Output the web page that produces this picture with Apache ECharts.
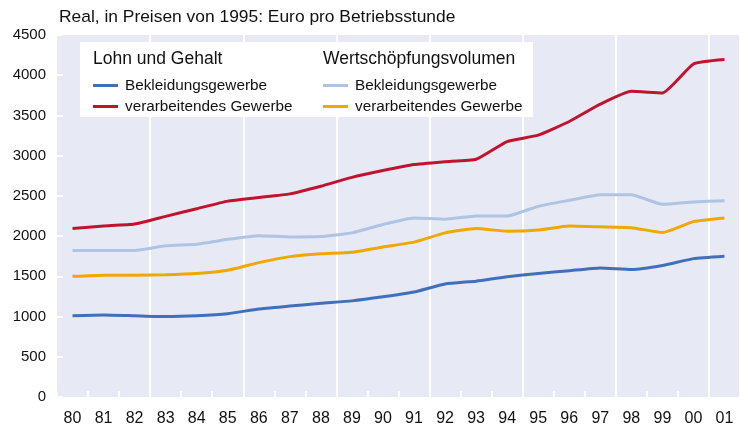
<!DOCTYPE html>
<html><head><meta charset="utf-8">
<script src="https://cdn.jsdelivr.net/npm/echarts@6/dist/echarts.min.js"></script>
<style>html,body{margin:0;padding:0;background:#fff}#c{width:740px;height:428px}</style>
</head><body><div id="c"></div>
<script>
const categories = ['80','81','82','83','84','85','86','87','88','89','90','91','92','93','94','95','96','97','98','99','00','01'];
const lohnBekleidung = [1010,1020,1010,1000,1010,1035,1095,1130,1165,1195,1245,1305,1405,1440,1495,1535,1570,1605,1585,1635,1720,1750];
const lohnVerarbeitend = [2095,2125,2150,2245,2340,2435,2480,2525,2620,2730,2815,2890,2925,2955,3175,3255,3425,3640,3800,3780,4140,4195];
const wertBekleidung = [1820,1820,1822,1880,1900,1960,2005,1990,1995,2040,2145,2225,2210,2250,2250,2370,2445,2515,2515,2395,2425,2440];
const wertVerarbeitend = [1500,1515,1515,1520,1535,1575,1670,1745,1780,1800,1865,1925,2040,2095,2060,2075,2125,2115,2105,2045,2180,2225];
const yTicks = [0,500,1000,1500,2000,2500,3000,3500,4000,4500];

const colors = {lb:'#3f70b8', lv:'#c0132e', wb:'#adc4e4', wv:'#efa800'};
const FONT = 'Liberation Sans, Arial, sans-serif';
const chart = echarts.init(document.getElementById('c'), null, {renderer:'canvas'});
function mk(name, data, color){
  return {name, type:'line', data, smooth:0.15, symbol:'none', z:3,
    lineStyle:{color, width:3}, itemStyle:{color}};
}
const strip = n => n.replace(/^[LW]:/, '');
chart.setOption({
  animation:false,
  textStyle:{fontFamily:FONT},
  grid:{left:57, right:0, top:35, bottom:31, show:true, backgroundColor:'#e7e9f5', borderWidth:0},
  title:{text:'Real, in Preisen von 1995: Euro pro Betriebsstunde', left:59, top:9, padding:0,
    textStyle:{fontSize:17.4, fontWeight:'normal', color:'#111', fontFamily:FONT}},
  graphic:[
    {type:'rect', shape:{x:80, y:42, width:453, height:75}, style:{fill:'#fff'}, z:10},
    {type:'text', x:93, y:50, style:{text:'Lohn und Gehalt', fontSize:17.5, fill:'#111', fontFamily:FONT}, z:11},
    {type:'text', x:323, y:50, style:{text:'Wertschöpfungsvolumen', fontSize:17.5, fill:'#111', fontFamily:FONT}, z:11}
  ],
  legend:[
    {left:93, top:78, padding:0, orient:'vertical', itemWidth:25, itemHeight:3, itemGap:6, icon:'rect', z:12,
      data:['L:Bekleidungsgewerbe','L:verarbeitendes Gewerbe'], formatter:strip,
      textStyle:{fontSize:15.3, color:'#111', fontFamily:FONT, padding:[0,0,0,2]}},
    {left:323, top:78, padding:0, orient:'vertical', itemWidth:25, itemHeight:3, itemGap:6, icon:'rect', z:12,
      data:['W:Bekleidungsgewerbe','W:verarbeitendes Gewerbe'], formatter:strip,
      textStyle:{fontSize:15.3, color:'#111', fontFamily:FONT, padding:[0,0,0,2]}}
  ],
  xAxis:{type:'category', data:categories, boundaryGap:true,
    axisLine:{show:false},
    axisTick:{show:true, inside:true, length:6, lineStyle:{color:'#fff', width:2}},
    axisLabel:{fontSize:16, color:'#111', margin:14, interval:0},
    splitLine:{show:true, interval:(i)=> i%3===0 && i>0, lineStyle:{color:'#fff', width:2}}
  },
  yAxis:{type:'value', min:0, max:4500, interval:500,
    axisLine:{show:false},
    axisTick:{show:true, inside:true, length:6, lineStyle:{color:'#fff', width:2}},
    axisLabel:{fontSize:15, color:'#111', margin:11, formatter:(v)=>String(v)},
    splitLine:{show:false}
  },
  series:[
    mk('L:Bekleidungsgewerbe', lohnBekleidung, colors.lb),
    mk('L:verarbeitendes Gewerbe', lohnVerarbeitend, colors.lv),
    mk('W:Bekleidungsgewerbe', wertBekleidung, colors.wb),
    mk('W:verarbeitendes Gewerbe', wertVerarbeitend, colors.wv)
  ]
});
</script></body></html>
